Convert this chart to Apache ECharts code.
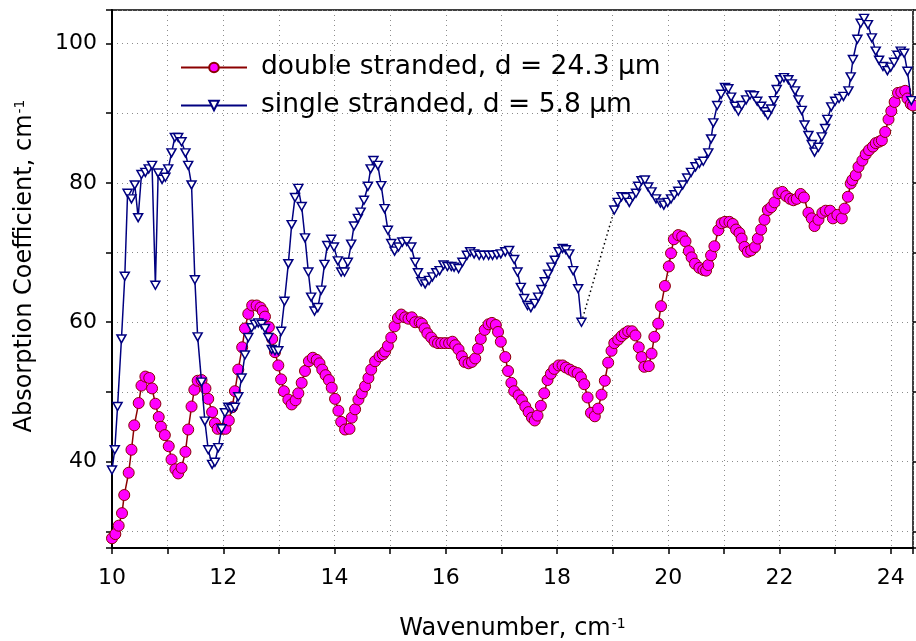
<!DOCTYPE html>
<html>
<head>
<meta charset="utf-8">
<script src="https://cdn.jsdelivr.net/npm/echarts@6/dist/echarts.min.js"></script>
<style>
  html, body { margin: 0; padding: 0; background: #fff; }
  #chart { width: 916px; height: 641px; }
</style>
</head>
<body>
<div id="chart"></div>
<script>
// double stranded sample, d = 24.3 um
var dsWave = [10.00, 10.06, 10.12, 10.18, 10.22, 10.30, 10.35, 10.40, 10.48, 10.53, 10.60, 10.67, 10.72, 10.78, 10.84, 10.88, 10.95, 11.02, 11.07, 11.14,
  11.19, 11.25, 11.32, 11.37, 11.43, 11.48, 11.54, 11.61, 11.68, 11.73, 11.80, 11.85, 11.90, 11.98, 12.04, 12.10, 12.16, 12.21, 12.27, 12.34,
  12.39, 12.45, 12.52, 12.60, 12.67, 12.71, 12.75, 12.82, 12.88, 12.93, 12.99, 13.04, 13.09, 13.17, 13.23, 13.30, 13.35, 13.41, 13.47, 13.54,
  13.61, 13.68, 13.73, 13.78, 13.84, 13.90, 13.95, 14.01, 14.07, 14.12, 14.19, 14.27, 14.31, 14.37, 14.43, 14.49, 14.55, 14.61, 14.66, 14.73,
  14.81, 14.87, 14.91, 14.96, 15.02, 15.08, 15.14, 15.20, 15.27, 15.33, 15.39, 15.45, 15.53, 15.57, 15.62, 15.67, 15.74, 15.80, 15.86, 15.92,
  15.99, 16.06, 16.12, 16.17, 16.23, 16.29, 16.34, 16.41, 16.47, 16.53, 16.58, 16.63, 16.70, 16.77, 16.83, 16.90, 16.94, 16.99, 17.07, 17.12,
  17.18, 17.23, 17.31, 17.37, 17.43, 17.49, 17.55, 17.60, 17.65, 17.71, 17.77, 17.83, 17.89, 17.95, 18.03, 18.10, 18.16, 18.23, 18.30, 18.37,
  18.43, 18.49, 18.55, 18.61, 18.68, 18.74, 18.80, 18.86, 18.92, 18.98, 19.03, 19.10, 19.16, 19.22, 19.28, 19.35, 19.41, 19.47, 19.52, 19.57,
  19.65, 19.70, 19.75, 19.82, 19.87, 19.94, 20.01, 20.05, 20.10, 20.18, 20.25, 20.31, 20.37, 20.42, 20.48, 20.56, 20.63, 20.68, 20.72, 20.77,
  20.83, 20.90, 20.96, 21.02, 21.10, 21.16, 21.22, 21.28, 21.32, 21.37, 21.43, 21.49, 21.56, 21.61, 21.67, 21.73, 21.79, 21.85, 21.91, 21.98,
  22.05, 22.12, 22.19, 22.25, 22.31, 22.38, 22.44, 22.52, 22.58, 22.63, 22.70, 22.77, 22.83, 22.91, 22.96, 23.04, 23.12, 23.17, 23.23, 23.28,
  23.31, 23.37, 23.42, 23.49, 23.55, 23.61, 23.68, 23.73, 23.79, 23.84, 23.90, 23.96, 24.01, 24.07, 24.13, 24.19, 24.26, 24.30, 24.36, 24.40];
var dsAbs = [29.0, 29.6, 30.8, 32.6, 35.2, 38.4, 41.7, 45.2, 48.4, 50.9, 52.2, 52.0, 50.5, 48.3, 46.4, 45.0, 43.8, 42.2, 40.3, 38.9,
  38.3, 39.1, 41.4, 44.6, 47.9, 50.3, 51.6, 51.7, 50.5, 49.0, 47.1, 45.5, 44.7, 44.7, 44.7, 45.9, 47.8, 50.1, 53.2, 56.4,
  59.1, 61.2, 62.4, 62.4, 62.1, 61.6, 60.8, 59.3, 57.6, 55.7, 53.8, 51.8, 50.1, 48.9, 48.2, 48.8, 49.8, 51.3, 53.0, 54.4,
  54.9, 54.6, 54.1, 53.2, 52.4, 51.7, 50.6, 49.0, 47.3, 45.7, 44.6, 44.7, 46.3, 47.5, 48.9, 49.8, 50.8, 52.0, 53.2, 54.4,
  55.1, 55.4, 55.8, 56.6, 57.8, 59.4, 60.6, 61.1, 60.7, 60.5, 60.7, 60.0, 60.0, 59.8, 59.1, 58.4, 57.8, 57.2, 57.0, 57.0,
  57.0, 57.0, 57.2, 56.7, 56.1, 55.1, 54.3, 54.1, 54.3, 54.8, 56.2, 57.6, 58.9, 59.7, 59.9, 59.6, 58.6, 57.2, 55.0, 53.0,
  51.3, 50.1, 49.5, 48.8, 47.9, 47.1, 46.3, 45.9, 46.6, 48.0, 49.8, 51.7, 52.6, 53.3, 53.8, 53.8, 53.5, 53.2, 52.9, 52.7,
  52.1, 51.1, 49.2, 47.0, 46.5, 47.6, 49.6, 51.6, 54.2, 55.9, 57.0, 57.5, 58.0, 58.4, 58.7, 58.7, 58.1, 56.4, 55.0, 53.6,
  53.7, 55.5, 57.9, 59.8, 62.3, 65.2, 68.0, 69.9, 71.9, 72.5, 72.3, 71.6, 70.2, 69.3, 68.4, 67.8, 67.5, 67.4, 68.2, 69.6,
  70.9, 73.2, 74.2, 74.4, 74.4, 74.1, 73.3, 72.8, 72.0, 70.8, 70.1, 70.3, 70.8, 72.0, 73.3, 74.7, 76.1, 76.5, 77.2, 78.5,
  78.7, 78.1, 77.7, 77.5, 77.7, 78.4, 77.9, 75.7, 74.9, 73.8, 74.7, 75.7, 76.0, 76.0, 74.9, 75.4, 74.9, 76.3, 78.0, 79.9,
  80.4, 81.1, 82.3, 83.2, 84.1, 84.7, 85.2, 85.7, 85.9, 86.1, 87.3, 89.1, 90.3, 91.6, 92.9, 93.0, 93.2, 92.1, 91.3, 91.1];

// single stranded sample, d = 5.8 um (two measured ranges)
var ssWaveLow = [10.00, 10.05, 10.10, 10.17, 10.23, 10.28, 10.35, 10.41, 10.47, 10.53, 10.60, 10.66, 10.72, 10.78, 10.83, 10.90, 10.96, 11.01, 11.07, 11.13,
  11.19, 11.25, 11.32, 11.37, 11.43, 11.49, 11.54, 11.61, 11.67, 11.73, 11.80, 11.85, 11.91, 11.97, 12.03, 12.09, 12.15, 12.21, 12.27, 12.33,
  12.39, 12.45, 12.51, 12.57, 12.63, 12.69, 12.75, 12.81, 12.87, 12.93, 12.99, 13.04, 13.10, 13.17, 13.23, 13.29, 13.35, 13.41, 13.47, 13.53,
  13.58, 13.64, 13.70, 13.76, 13.82, 13.87, 13.94, 13.99, 14.06, 14.12, 14.18, 14.24, 14.30, 14.35, 14.42, 14.47, 14.53, 14.60, 14.65, 14.70,
  14.78, 14.84, 14.90, 14.96, 15.02, 15.08, 15.15, 15.22, 15.30, 15.38, 15.45, 15.50, 15.56, 15.63, 15.70, 15.76, 15.83, 15.89, 15.96, 16.03,
  16.10, 16.15, 16.23, 16.30, 16.38, 16.44, 16.51, 16.60, 16.68, 16.77, 16.84, 16.92, 16.99, 17.07, 17.14, 17.23, 17.29, 17.35, 17.41, 17.47,
  17.53, 17.60, 17.66, 17.72, 17.78, 17.84, 17.90, 17.96, 18.03, 18.10, 18.16, 18.22, 18.29, 18.38, 18.44];
var ssAbsLow = [38.8, 41.7, 47.9, 57.6, 66.6, 78.5, 77.7, 79.7, 75.0, 81.2, 81.5, 82.0, 82.5, 65.3, 81.4, 80.5, 80.8, 82.0, 84.3, 86.5,
  86.5, 85.9, 84.3, 82.5, 79.7, 66.1, 57.9, 51.4, 45.8, 41.7, 39.6, 39.9, 42.0, 44.7, 47.0, 47.8, 47.6, 47.8, 49.3, 52.0,
  55.3, 57.8, 59.2, 59.7, 59.9, 59.7, 59.1, 57.8, 56.1, 55.9, 55.9, 58.7, 63.0, 68.4, 74.0, 77.9, 79.2, 76.6, 72.1, 67.2,
  63.6, 61.6, 62.1, 64.6, 68.3, 71.0, 71.9, 70.8, 68.8, 67.2, 67.2, 68.6, 71.2, 73.8, 74.9, 75.8, 77.5, 79.5, 82.0, 83.2,
  82.5, 79.6, 76.3, 73.2, 71.3, 70.2, 70.8, 71.5, 71.6, 70.8, 68.6, 67.1, 65.8, 65.5, 66.0, 66.5, 67.1, 67.4, 68.2, 68.0,
  68.0, 67.9, 67.7, 68.6, 69.6, 70.1, 69.8, 69.6, 69.6, 69.6, 69.6, 69.7, 69.8, 70.1, 70.3, 69.0, 67.2, 65.0, 63.4, 62.4,
  62.1, 62.7, 63.6, 64.7, 65.8, 66.9, 67.9, 68.9, 70.1, 70.6, 70.4, 69.8, 67.4, 64.8, 60.0];
var ssWaveHigh = [19.03, 19.09, 19.16, 19.24, 19.30, 19.36, 19.42, 19.46, 19.52, 19.58, 19.64, 19.70, 19.78, 19.86, 19.92, 19.99, 20.05, 20.11, 20.18, 20.26,
  20.34, 20.41, 20.49, 20.56, 20.63, 20.72, 20.77, 20.81, 20.88, 20.95, 21.02, 21.08, 21.13, 21.20, 21.26, 21.32, 21.40, 21.47, 21.54, 21.60,
  21.67, 21.74, 21.79, 21.85, 21.90, 21.95, 22.01, 22.08, 22.16, 22.22, 22.28, 22.34, 22.40, 22.45, 22.52, 22.58, 22.63, 22.70, 22.76, 22.82,
  22.86, 22.93, 23.00, 23.07, 23.15, 23.24, 23.28, 23.32, 23.40, 23.46, 23.52, 23.59, 23.66, 23.73, 23.79, 23.86, 23.94, 24.00, 24.06, 24.12,
  24.18, 24.24, 24.30, 24.37];
var ssAbsHigh = [76.1, 77.2, 78.0, 77.9, 77.2, 78.0, 78.5, 79.5, 80.3, 80.4, 79.4, 78.7, 77.7, 77.1, 76.8, 77.2, 77.7, 78.3, 78.8, 79.7,
  80.7, 81.5, 82.3, 82.8, 83.1, 84.3, 86.3, 88.6, 91.1, 92.7, 93.7, 93.5, 92.3, 91.0, 90.3, 91.1, 91.9, 92.6, 92.5, 91.7,
  91.0, 90.2, 89.7, 90.6, 91.8, 93.4, 94.8, 95.1, 94.8, 94.2, 93.2, 91.9, 90.4, 88.3, 86.8, 85.5, 84.4, 85.1, 86.6, 87.8,
  89.1, 90.9, 91.7, 92.1, 92.4, 93.2, 95.2, 97.7, 100.6, 102.9, 103.6, 102.7, 100.8, 98.9, 97.6, 96.7, 96.1, 96.6, 97.3, 98.3,
  98.9, 98.6, 96.0, 91.8];

var xTickLabels = [10, 12, 14, 16, 18, 20, 22, 24];
var yTickLabels = [40, 60, 80, 100];

var dsName = 'double stranded, d = 24.3 \u03bcm';
var ssName = 'single stranded, d = 5.8 \u03bcm';

function zip(xs, ys) {
  return xs.map(function (x, i) { return [x, ys[i]]; });
}

var ssLow = zip(ssWaveLow, ssAbsLow);
var ssHigh = zip(ssWaveHigh, ssAbsHigh);
var ssJoin = [ssLow[ssLow.length - 1], ssHigh[0]];

var font = 'DejaVu Sans';
var gridLine = { show: true, lineStyle: { color: '#8c8c8c', width: 1, type: [1, 4] } };
var nameRich = {
  n: { fontFamily: font, fontSize: 24, color: '#000' },
  s: { fontFamily: font, fontSize: 14, color: '#000', verticalAlign: 'top', padding: [0, 0, 10, 1] }
};

var chart = echarts.init(document.getElementById('chart'));
chart.setOption({
  animation: false,
  backgroundColor: '#fff',
  grid: {
    left: 112, right: 3, top: 10, bottom: 93,
    containLabel: false,
    outerBoundsMode: 'none',
    show: true, borderColor: '#000', borderWidth: 1.5
  },
  legend: {
    data: [dsName, ssName],
    orient: 'vertical',
    left: 175,
    top: 49,
    itemWidth: 66,
    itemHeight: 12,
    itemGap: 11,
    textStyle: { fontFamily: font, fontSize: 26.5, color: '#000', padding: [0, 0, 0, 9] }
  },
  xAxis: {
    type: 'value',
    min: 10,
    max: 24.4,
    interval: 1,
    name: '{n|Wavenumber, cm}{s|-1}',
    nameLocation: 'middle',
    nameGap: 69,
    nameTextStyle: { rich: nameRich },
    axisLine: { onZero: false, lineStyle: { color: '#000', width: 2 } },
    axisTick: { length: 6, lineStyle: { color: '#000', width: 1.5 } },
    axisLabel: {
      fontFamily: font, fontSize: 22, color: '#000', margin: 19,
      formatter: function (v) { return xTickLabels.indexOf(v) >= 0 ? String(v) : ''; }
    },
    splitLine: gridLine
  },
  yAxis: [{
    type: 'value',
    min: 27.6,
    max: 104.8,
    splitNumber: 8,
    name: '{n|Absorption Coefficient, cm}{s|-1}',
    nameLocation: 'middle',
    nameGap: 75,
    nameRotate: 90,
    nameTextStyle: { rich: nameRich, padding: [0, 0, 0, 26] },
    axisLine: { show: true, onZero: false, lineStyle: { color: '#000', width: 2 } },
    axisTick: { show: true, length: 6, lineStyle: { color: '#000', width: 1.5 } },
    axisLabel: {
      fontFamily: font, fontSize: 22, color: '#000', margin: 15,
      formatter: function (v) { return yTickLabels.indexOf(v) >= 0 ? String(v) : ''; }
    },
    splitLine: gridLine
  }, {
    type: 'value',
    position: 'right',
    min: 27.6,
    max: 104.8,
    splitNumber: 8,
    axisLine: { show: false },
    axisTick: { show: true, length: 5, lineStyle: { color: '#000', width: 1.5 } },
    axisLabel: { show: false },
    splitLine: { show: false }
  }],
  series: [{
    name: dsName,
    type: 'line',
    data: zip(dsWave, dsAbs),
    symbol: 'circle',
    symbolSize: 11,
    lineStyle: { color: '#8b0000', width: 1.5 },
    itemStyle: { color: '#ff00ff', borderColor: '#8b0000', borderWidth: 1 },
    z: 2
  }, {
    name: ssName,
    type: 'line',
    data: ssLow,
    symbol: 'triangle',
    symbolRotate: 180,
    symbolSize: [9, 8],
    lineStyle: { color: '#000080', width: 1.5 },
    itemStyle: { color: '#ffffff', borderColor: '#000080', borderWidth: 1.5 },
    z: 3
  }, {
    name: ssName,
    type: 'line',
    data: ssHigh,
    symbol: 'triangle',
    symbolRotate: 180,
    symbolSize: [9, 8],
    lineStyle: { color: '#000080', width: 1.5 },
    itemStyle: { color: '#ffffff', borderColor: '#000080', borderWidth: 1.5 },
    z: 3
  }, {
    name: 'gap',
    type: 'line',
    data: ssJoin,
    symbol: 'none',
    silent: true,
    lineStyle: { color: '#000', width: 1.5, type: [1.5, 3] },
    z: 1
  }]
});
</script>
</body>
</html>
